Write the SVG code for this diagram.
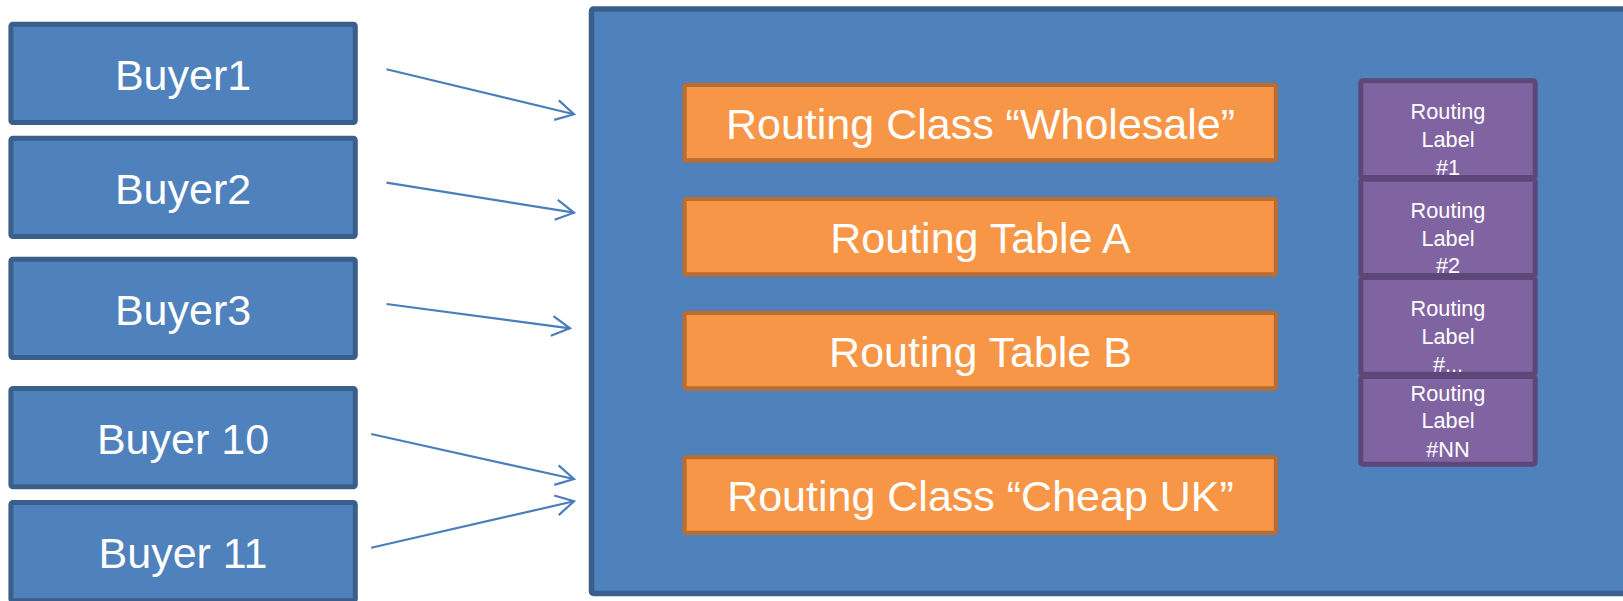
<svg xmlns="http://www.w3.org/2000/svg" width="1623" height="601" viewBox="0 0 1623 601">
<style>
.buyer rect{fill:#4F81BD;stroke:#3A5F8B;stroke-width:5}
.cont{fill:#4F81BD;stroke:#3A5F8B;stroke-width:5.5}
.org rect{fill:#F79646;stroke:#B76D34;stroke-width:4.3}
.pur rect{fill:#8064A2;stroke:#5D4778;stroke-width:5}
.big{font-family:"Liberation Sans",Arial,sans-serif;font-size:43px;fill:#FFFFFF;text-anchor:middle}
.sm{font-family:"Liberation Sans",Arial,sans-serif;font-size:21.7px;fill:#FFFFFF;text-anchor:middle}
.conn line{stroke:#4A7EBB;stroke-width:2.2;fill:none;marker-end:url(#arr)}
</style>
<defs>
<marker id="arr" markerUnits="userSpaceOnUse" viewBox="0 0 24 24" refX="22" refY="12" markerWidth="24" markerHeight="24" orient="auto">
<path d="M4,2 L22,12 L4,22" fill="none" stroke="#4A7EBB" stroke-width="2.2"/>
</marker>
</defs>
<rect width="1623" height="601" fill="#FFFFFF"/>
<g id="container"><rect class="cont" x="591.5" y="9" width="1045" height="584.5" rx="2"/></g>
<g id="buyer1" class="buyer"><rect x="10.9" y="24.2" width="344.4" height="98.3" rx="2"/><text class="big" x="183" y="90">Buyer1</text></g>
<g id="buyer2" class="buyer"><rect x="10.9" y="138.2" width="344.4" height="98.3" rx="2"/><text class="big" x="183" y="204">Buyer2</text></g>
<g id="buyer3" class="buyer"><rect x="10.9" y="259.2" width="344.4" height="98.3" rx="2"/><text class="big" x="183" y="325">Buyer3</text></g>
<g id="buyer10" class="buyer"><rect x="10.9" y="388.5" width="344.4" height="98.3" rx="2"/><text class="big" x="183" y="454">Buyer 10</text></g>
<g id="buyer11" class="buyer"><rect x="10.9" y="502.5" width="344.4" height="98.3" rx="2"/><text class="big" x="183" y="568">Buyer 11</text></g>
<g id="wholesale" class="org"><rect x="684.5" y="84.9" width="591.5" height="75.6" rx="2"/><text class="big" x="980.5" y="139.3">Routing Class “Wholesale”</text></g>
<g id="tableA" class="org"><rect x="684.5" y="198.9" width="591.5" height="75.6" rx="2"/><text class="big" x="980.5" y="252.7">Routing Table A</text></g>
<g id="tableB" class="org"><rect x="684.5" y="312.9" width="591.5" height="75.6" rx="2"/><text class="big" x="980.5" y="366.7">Routing Table B</text></g>
<g id="cheapuk" class="org"><rect x="684.5" y="457.2" width="591.5" height="75.6" rx="2"/><text class="big" x="980.5" y="510.7">Routing Class “Cheap UK”</text></g>
<g id="label1" class="pur"><rect x="1360.8" y="80.8" width="174.4" height="96.7" rx="2"/><text class="sm" x="1448" y="119.3">Routing</text><text class="sm" x="1448" y="147.3">Label</text><text class="sm" x="1448" y="175">#1</text></g>
<g id="label2" class="pur"><rect x="1360.8" y="179.2" width="174.4" height="96.3" rx="2"/><text class="sm" x="1448" y="218.3">Routing</text><text class="sm" x="1448" y="246">Label</text><text class="sm" x="1448" y="273.3">#2</text></g>
<g id="label3" class="pur"><rect x="1360.8" y="277.5" width="174.4" height="96.7" rx="2"/><text class="sm" x="1448" y="316">Routing</text><text class="sm" x="1448" y="344">Label</text><text class="sm" x="1448" y="371.7">#...</text></g>
<g id="labelNN" class="pur"><rect x="1360.8" y="376.5" width="174.4" height="87.7" rx="2"/><text class="sm" x="1448" y="400.7">Routing</text><text class="sm" x="1448" y="428.3">Label</text><text class="sm" x="1448" y="456.7">#NN</text></g>
<g id="connectors" class="conn">
<line x1="386.5" y1="69.3" x2="574" y2="114.3"/>
<line x1="386.5" y1="182.7" x2="574" y2="212.7"/>
<line x1="386.5" y1="304" x2="570" y2="328.3"/>
<line x1="371.2" y1="434" x2="574" y2="479"/>
<line x1="371.2" y1="547.7" x2="574" y2="501.3"/>
</g>
</svg>
